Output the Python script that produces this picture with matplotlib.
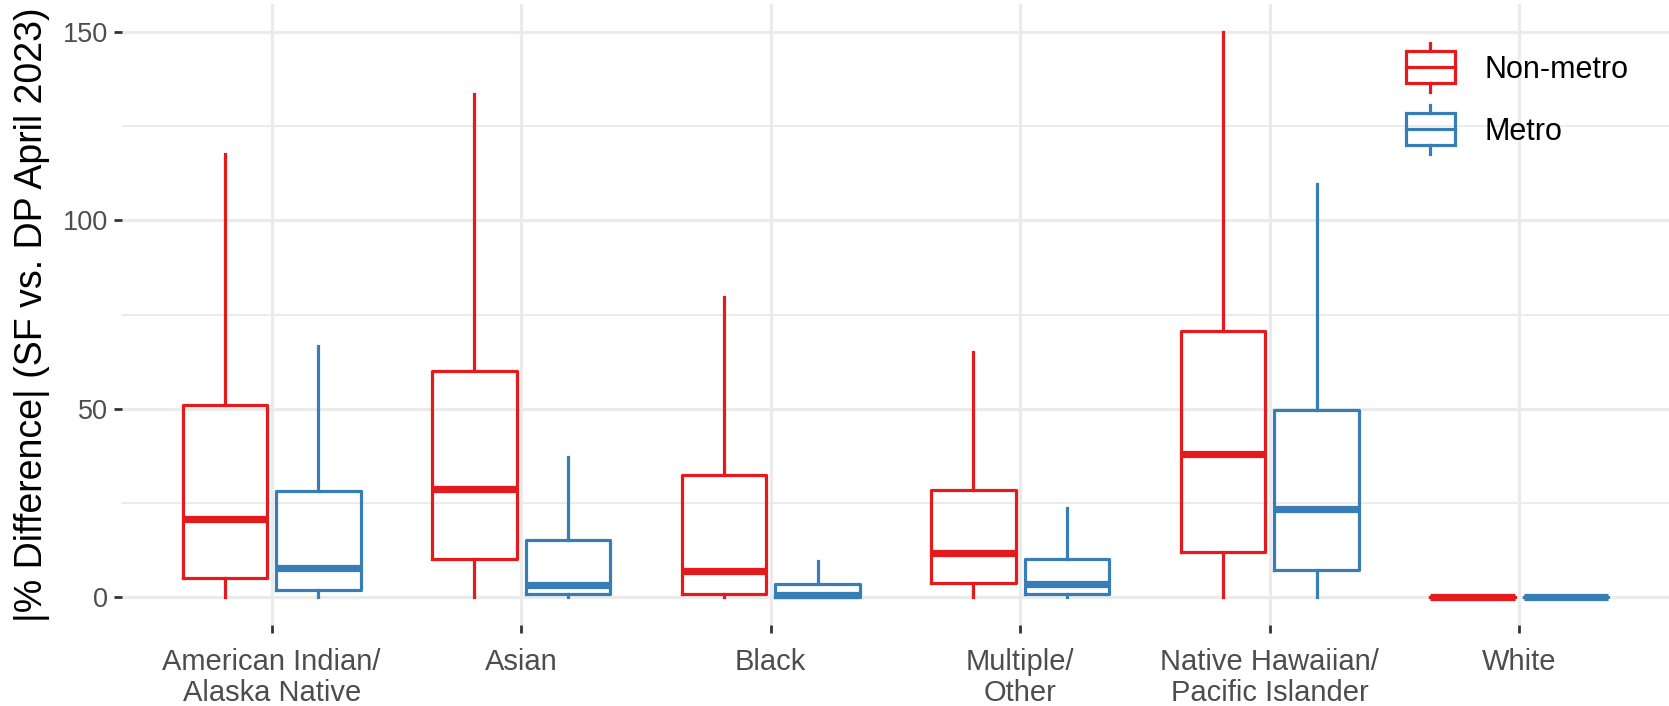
import matplotlib
matplotlib.use("Agg")
import matplotlib.pyplot as plt
from matplotlib.legend_handler import HandlerBase
from matplotlib.patches import Rectangle, Patch
from matplotlib.lines import Line2D

plt.rcParams['font.family'] = ['Liberation Sans', 'DejaVu Sans']

categories = ["American Indian/\nAlaska Native", "Asian", "Black",
              "Multiple/\nOther", "Native Hawaiian/\nPacific Islander", "White"]
groups = ["Non-metro", "Metro"]
colors = {"Non-metro": "#E41A1C", "Metro": "#377EB8"}

# per-category stats: whislo, q1, median, q3, whishi
nonmetro_whislo = [0, 0, 0, 0, 0, 0]
nonmetro_q1 = [5.0, 10.2, 0.8, 3.8, 11.9, 0]
nonmetro_med = [20.8, 28.6, 6.9, 11.8, 38.1, 0]
nonmetro_q3 = [50.9, 60.0, 32.4, 28.5, 70.5, 0]
nonmetro_whishi = [117.6, 133.5, 79.6, 65.1, 150.0, 0]

metro_whislo = [0, 0, 0, 0, 0, 0]
metro_q1 = [2.0, 0.8, 0.1, 0.7, 7.1, 0]
metro_med = [7.7, 3.1, 0.5, 3.6, 23.4, 0]
metro_q3 = [28.1, 15.2, 3.6, 10.0, 49.6, 0]
metro_whishi = [66.6, 37.3, 9.5, 23.6, 109.6, 0]

yticks = [0, 50, 100, 150]
yminor = [25, 75, 125]

series = {
    "Non-metro": (nonmetro_whislo, nonmetro_q1, nonmetro_med, nonmetro_q3, nonmetro_whishi),
    "Metro": (metro_whislo, metro_q1, metro_med, metro_q3, metro_whishi),
}

DPI = 100
fig = plt.figure(figsize=(16.69, 7.06), dpi=DPI)
ax = fig.add_axes([122 / 1669, 80.6 / 706, 1 - 122 / 1669, (702.4 - 80.6) / 706])

grid_col = "#EBEBEB"
for y in yticks:
    ax.axhline(y, color=grid_col, lw=2.3, zorder=0)
for y in yminor:
    ax.axhline(y, color=grid_col, lw=1.4, zorder=0)
base_pos = list(range(1, len(categories) + 1))
for x in base_pos:
    ax.axvline(x, color=grid_col, lw=2.3, zorder=0)

offsets = {"Non-metro": -0.1875, "Metro": 0.1875}
box_w = 0.3375
LW = 2.3
for g in groups:
    lo, q1, med, q3, hi = series[g]
    stats = []
    for i in range(len(categories)):
        stats.append(dict(whislo=lo[i], q1=q1[i], med=med[i], q3=q3[i],
                          whishi=hi[i], fliers=[]))
    pos = [p + offsets[g] for p in base_pos]
    c = colors[g]
    ax.bxp(stats, positions=pos, widths=box_w, showcaps=False, showfliers=False,
           patch_artist=False, manage_ticks=False,
           boxprops=dict(color=c, lw=LW),
           whiskerprops=dict(color=c, lw=LW),
           medianprops=dict(color=c, lw=5.2, solid_capstyle='butt'),
           zorder=3)

ax.set_xlim(0.4, 6.6)
ax.set_ylim(-7.5, 157.5)
ax.set_xticks(base_pos)
ax.set_xticklabels(categories, fontsize=21, color="#4D4D4D", linespacing=1.1)
ax.set_yticks(yticks)
ax.set_yticklabels([str(v) for v in yticks], fontsize=19.5, color="#4D4D4D")
ax.tick_params(axis='both', length=6, width=2.0, color="#333333")
ax.tick_params(axis='x', pad=10.5)
ax.tick_params(axis='y', pad=4)
for s in ax.spines.values():
    s.set_visible(False)
ax.set_ylabel("|% Difference| (SF vs. DP April 2023)", fontsize=27, color="black")
ax.yaxis.set_label_coords(-0.058, 0.5)
ax.yaxis.label.set_va('center')


class BoxHandler(HandlerBase):
    def create_artists(self, legend, orig_handle, xdescent, ydescent, width, height, fontsize, trans):
        c = orig_handle.get_edgecolor()
        x0 = -xdescent
        y0 = -ydescent
        cx = x0 + width / 2
        cy = y0 + height / 2
        bh = height * 1.43
        rect = Rectangle((x0, cy - bh / 2), width, bh, facecolor='none', edgecolor=c,
                         lw=LW, transform=trans)
        med = Line2D([x0, x0 + width], [cy, cy], color=c, lw=LW, transform=trans)
        wh = height * 2.17
        w1 = Line2D([cx, cx], [cy + bh / 2, cy + wh / 2], color=c, lw=LW, transform=trans)
        w2 = Line2D([cx, cx], [cy - bh / 2, cy - wh / 2], color=c, lw=LW, transform=trans)
        return [w1, w2, rect, med]


handles = [Patch(edgecolor=colors[g], facecolor='none') for g in groups]
leg = ax.legend(handles, groups, handler_map={Patch: BoxHandler()},
                loc='upper left', bbox_to_anchor=(1406 / 1669, 1 - 55 / 706),
                bbox_transform=fig.transFigure, frameon=False, fontsize=22,
                handlelength=1.6, handleheight=0.75, labelspacing=1.05,
                handletextpad=0.96, borderpad=0, borderaxespad=0)

fig.savefig("out.png", dpi=DPI)
